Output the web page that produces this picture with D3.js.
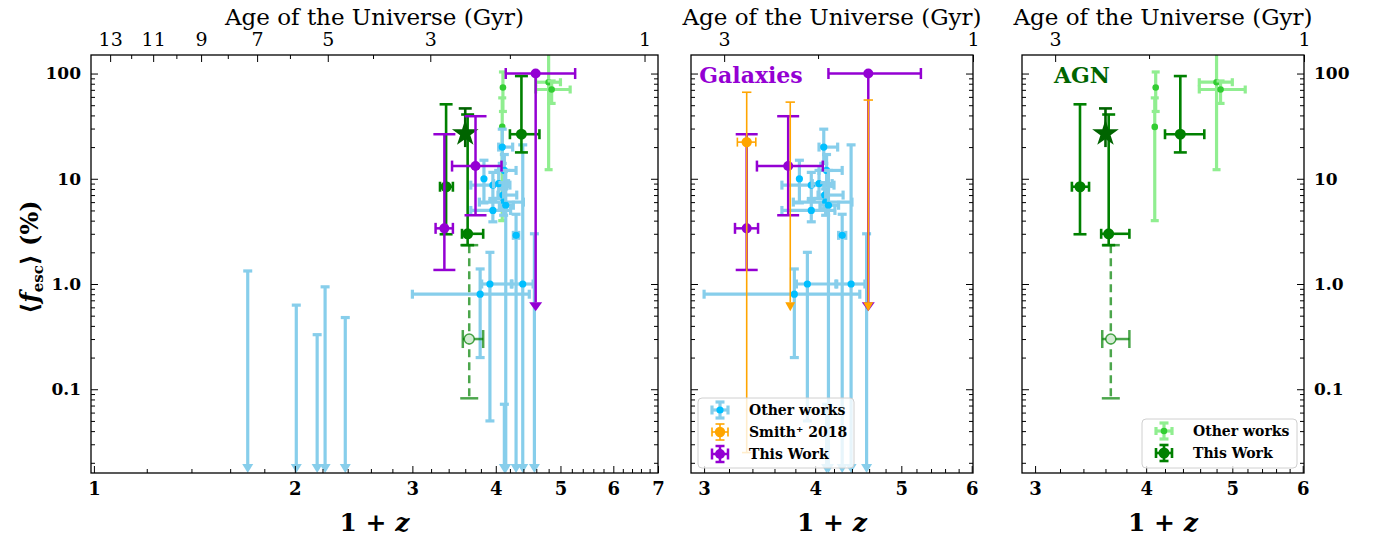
<!DOCTYPE html>
<html>
<head>
<meta charset="utf-8">
<script src="https://cdn.jsdelivr.net/npm/d3@7"></script>
<style>
  body { margin: 0; background: #fff; }
  svg { display: block; }
</style>
</head>
<body>
<div id="chart"></div>
<script>
// galaxies, other works: [1+z, 1+z low, 1+z high, fesc %, fesc low, fesc high]
// a fesc low of 0 means the bar runs to the bottom of the axes and ends in an arrow
const galOther = [
  [4.09, 4.04, 4.24, 20, 14, 29.6],
  [4.12, 4.04, 4.29, 12, 8.5, 17],
  [3.84, 3.84, 3.84, 10, 5.9, 15],
  [3.96, 3.67, 4.20, 8.7, 6.5, 11.5],
  [4.04, 3.97, 4.18, 9.0, 6.5, 12],
  [4.10, 4.03, 4.30, 7.0, 5.2, 9.2],
  [4.11, 3.78, 4.40, 6.0, 4.5, 8.0],
  [4.14, 4.05, 4.25, 5.6, 0, 12],
  [3.96, 3.67, 4.21, 5.0, 3.9, 6.2],
  [4.29, 4.25, 4.33, 2.9, 0, 4.6],
  [3.79, 3.00, 4.49, 0.8, 0.2, 1.39],
  [3.92, 3.81, 4.23, 1.0, 0.05, 2.0],
  [4.39, 4.22, 4.55, 1.0, 0, 21]
];
// galaxies, other works, upper limits: [1+z, limit]
const galOtherLim = [
  [1.70, 1.33], [2.01, 0.63], [2.16, 0.33], [2.22, 0.94], [2.38, 0.48],
  [4.12, 0.072], [4.57, 3.0]
];
const smithPts = [[3.35, 3.27, 3.43, 22.3, 0.025, 66.4]];
// [1+z, top cap, arrow tip]
const smithLim = [[3.75, 53.5, 0.55], [4.59, 56, 0.55]];
const galThis = [
  [3.35, 3.25, 3.45, 3.38, 1.36, 26.5],
  [3.73, 3.44, 4.08, 13.2, 4.5, 39.3]
];
// [1+z, 1+z low, 1+z high, fesc, arrow tip]
const galThisLim = [[4.59, 4.14, 5.26, 100, 0.55]];

const agnOther = [
  [4.10, 4.10, 4.10, 73.7, 43.6, 103.5],
  [4.09, 4.09, 4.09, 31.1, 4.0, 58.7],
  [4.80, 4.59, 5.00, 82.7, 12.2, 400],
  [4.85, 4.59, 5.17, 70.5, 52, 85]
];
const agnThis = [
  [3.37, 3.30, 3.45, 8.4, 2.97, 51],
  [3.63, 3.56, 3.83, 3.0, 2.34, 40.8],
  [4.37, 4.20, 4.65, 26.5, 17.8, 94.6]
];
const agnStar = [[3.60, 3.60, 3.60, 26.9, 20, 46.6]];
const agnOpen = [[3.65, 3.57, 3.83, 0.30, 0.082, 2.34]];

const yTickVals = [0.1, 1, 10, 100];
const yTickText = ["0.1", "1.0", "10", "100"];
const ageMainMajor = [13, 11, 9, 7, 5, 3, 1];
const ageMainMinor = [12, 10, 8, 6, 4, 2];
// narrow panels: [age, 1+z where the tick sits]
const ageZoomMajor = [[3, 3.16], [1, 6.02]];
const ageZoomMinor = [[2, 4.03]];

// flat LCDM, age (Gyr) -> 1+z
function ageToOnePlusZ(t) {
  const H0 = 67.7, Om = 0.31, OL = 1 - Om;
  const pref = (977.8 / H0) * 2 / (3 * Math.sqrt(OL));
  const s = Math.sinh(t / pref) / Math.sqrt(OL / Om);
  return Math.pow(s, -2 / 3);
}

const W = 1374, H = 538;
const yTop = 55, yBot = 473;
const serif = "'DejaVu Serif', 'Liberation Serif', serif";

const svg = d3.select("#chart").append("svg").attr("width", W).attr("height", H);

const y = d3.scaleLog().domain([0.016, 150]).range([yBot, yTop]);

const styles = {
  galOther: { ec: "#87ceeb", mc: "#00bfff", lw: 3.2, capV: 4.5, capH: 4.5, r: 3.6, ah: 9, aw: 5.5 },
  smith: { ec: "#ffa500", mc: "#ffa500", lw: 1.6, capV: 4.7, capH: 4.5, r: 5.2, ah: 9, aw: 5 },
  galThis: { ec: "#9400d3", mc: "#9400d3", lw: 2.5, capV: 11, capH: 5.5, r: 5, ah: 9, aw: 6.5 },
  agnOther: { ec: "#90ee90", mc: "#32cd32", lw: 3.2, capV: 4, capH: 4, r: 3.3, ah: 8, aw: 5 },
  agnThis: { ec: "#008000", mc: "#008000", lw: 2.6, capV: 6.5, capH: 5, r: 5.5, ah: 8, aw: 5 },
  agnOpen: { ec: "rgba(0,128,0,0.7)", mc: "#d4ecd4", lw: 2.5, capV: 9, capH: 9, r: 5, dash: "8,5", open: true }
};

function seg(g, x1, y1, x2, y2, st, dash) {
  g.append("line")
    .attr("x1", x1).attr("y1", y1).attr("x2", x2).attr("y2", y2)
    .attr("stroke", st.ec).attr("stroke-width", st.lw)
    .attr("stroke-dasharray", dash || null);
}

function arrow(g, X, tipY, st) {
  g.append("path")
    .attr("d", `M${X - st.aw},${tipY - st.ah}L${X + st.aw},${tipY - st.ah}L${X},${tipY}Z`)
    .attr("fill", st.ec);
}

function marker(g, X, Y, st) {
  g.append("circle").attr("cx", X).attr("cy", Y).attr("r", st.r)
    .attr("fill", st.mc)
    .attr("stroke", st.open ? st.ec : "none").attr("stroke-width", 1.5);
}

function errPoint(g, x, d, st) {
  const [zx, zl, zh, f, fl, fh] = d;
  const X = x(zx), Y = y(f);
  const yHi = y(fh);
  const yLo = fl > 0 ? y(fl) : yBot - st.ah;
  seg(g, X, yHi, X, yLo, st, st.dash);
  seg(g, X - st.capV, yHi, X + st.capV, yHi, st);
  if (fl > 0) seg(g, X - st.capV, yLo, X + st.capV, yLo, st);
  else arrow(g, X, yBot, st);
  if (zh > zl) {
    seg(g, x(zl), Y, x(zh), Y, st);
    seg(g, x(zl), Y - st.capH, x(zl), Y + st.capH, st);
    seg(g, x(zh), Y - st.capH, x(zh), Y + st.capH, st);
  }
  marker(g, X, Y, st);
}

const layers = {
  agnOther(g, x) {
    agnOther.forEach(d => errPoint(g, x, d, styles.agnOther));
  },
  galOther(g, x) {
    const st = styles.galOther;
    galOtherLim.forEach(([zx, lim]) => {
      const X = x(zx);
      seg(g, X, y(lim), X, yBot - st.ah, st);
      seg(g, X - st.capV, y(lim), X + st.capV, y(lim), st);
      arrow(g, X, yBot, st);
    });
    galOther.forEach(d => errPoint(g, x, d, st));
  },
  smith(g, x) {
    const st = styles.smith;
    smithLim.forEach(([zx, top, tip]) => {
      const X = x(zx);
      seg(g, X, y(top), X, y(tip) - st.ah, st);
      seg(g, X - st.capV, y(top), X + st.capV, y(top), st);
      arrow(g, X, y(tip), st);
    });
    smithPts.forEach(d => errPoint(g, x, d, st));
  },
  agnThis(g, x) {
    agnOpen.forEach(d => errPoint(g, x, d, styles.agnOpen));
    agnThis.forEach(d => errPoint(g, x, d, styles.agnThis));
    const st = Object.assign({}, styles.agnThis, { ec: "#006400" });
    agnStar.forEach(d => {
      const X = x(d[0]);
      seg(g, X, y(d[4]), X, y(d[5]), st);
      seg(g, X - st.capV, y(d[5]), X + st.capV, y(d[5]), st);
      g.append("path")
        .attr("d", d3.symbol(d3.symbolStar, 220)())
        .attr("transform", `translate(${X},${y(d[3])})`)
        .attr("fill", "#006400");
    });
  },
  galThis(g, x) {
    const st = styles.galThis;
    galThisLim.forEach(([zx, zl, zh, f, tip]) => {
      const X = x(zx), Y = y(f);
      seg(g, X, Y, X, y(tip) - st.ah, st);
      arrow(g, X, y(tip), st);
      seg(g, x(zl), Y, x(zh), Y, st);
      seg(g, x(zl), Y - st.capH, x(zl), Y + st.capH, st);
      seg(g, x(zh), Y - st.capH, x(zh), Y + st.capH, st);
      marker(g, X, Y, st);
    });
    galThis.forEach(d => errPoint(g, x, d, st));
  }
};

const panels = [
  { x0: 91, x1: 658, dom: [0.99, 7.0], xt: [1, 2, 3, 4, 5, 6, 7],
    ageMajor: ageMainMajor.map(a => [a, ageToOnePlusZ(a)]),
    ageMinor: ageMainMinor.map(a => [a, ageToOnePlusZ(a)]),
    ylab: "left", draw: ["agnOther", "galOther", "agnThis", "galThis"] },
  { x0: 691, x1: 973, dom: [2.9, 6.02], xt: [3, 4, 5, 6],
    ageMajor: ageZoomMajor, ageMinor: ageZoomMinor,
    ylab: null, draw: ["galOther", "galThis", "smith"],
    tag: { text: "Galaxies", color: "#9400d3" },
    legend: { x: 698, y: 398, w: 156, h: 70,
      items: [["Other works", "galOther"], ["Smith\u207a 2018", "smith"], ["This Work", "galThis"]] } },
  { x0: 1022, x1: 1304, dom: [2.9, 6.02], xt: [3, 4, 5, 6],
    ageMajor: ageZoomMajor, ageMinor: ageZoomMinor,
    ylab: "right", draw: ["agnOther", "agnThis"],
    tag: { text: "AGN", color: "#006400" },
    legend: { x: 1142, y: 419, w: 155, h: 49,
      items: [["Other works", "agnOther"], ["This Work", "agnThis"]] } }
];

const yMinor = [];
[0.01, 0.1, 1, 10, 100].forEach(dec => d3.range(2, 10).forEach(k => {
  const v = dec * k;
  if (v > 0.016 && v < 150) yMinor.push(v);
}));

function styleAxis(g, size, bold) {
  g.select(".domain").remove();
  g.selectAll("line").attr("stroke", "#000");
  g.selectAll("text").attr("font-family", serif).attr("font-size", size)
    .attr("font-weight", bold ? "bold" : "normal").attr("fill", "#000");
}

panels.forEach((p, pi) => {
  const x = d3.scaleLog().domain(p.dom).range([p.x0, p.x1]);
  const g = svg.append("g");
  const clipId = "clip" + pi;
  svg.append("clipPath").attr("id", clipId).append("rect")
    .attr("x", p.x0).attr("y", yTop).attr("width", p.x1 - p.x0).attr("height", yBot - yTop);

  const plot = g.append("g").attr("clip-path", `url(#${clipId})`);
  p.draw.forEach(name => layers[name](plot.append("g"), x));

  // bottom axis
  const xMinor = d3.range(Math.ceil(p.dom[0] * 5) / 5, p.dom[1] + 1e-9, 0.2)
    .filter(v => Math.abs(v - Math.round(v)) > 1e-6 && v > p.dom[0] && v < p.dom[1]);
  g.append("g").attr("transform", `translate(0,${yBot})`)
    .call(d3.axisBottom(x).tickValues(p.xt).tickSizeInner(-7).tickSizeOuter(0)
      .tickPadding(9).tickFormat(d3.format("d")))
    .call(a => styleAxis(a, 18, true));
  g.append("g").attr("transform", `translate(0,${yBot})`)
    .call(d3.axisBottom(x).tickValues(xMinor).tickSizeInner(-4).tickSizeOuter(0).tickFormat(""))
    .call(a => styleAxis(a, 10, false));

  // top axis: age of the universe
  g.append("g").attr("transform", `translate(0,${yTop})`)
    .call(d3.axisTop(x).tickValues(p.ageMajor.map(d => d[1])).tickSizeInner(-7).tickSizeOuter(0)
      .tickPadding(9).tickFormat((d, i) => p.ageMajor[i][0]))
    .call(a => styleAxis(a, 19, false));
  g.append("g").attr("transform", `translate(0,${yTop})`)
    .call(d3.axisTop(x).tickValues(p.ageMinor.map(d => d[1])).tickSizeInner(-4).tickSizeOuter(0).tickFormat(""))
    .call(a => styleAxis(a, 10, false));

  // y axes on both sides
  [["left", p.x0, d3.axisLeft], ["right", p.x1, d3.axisRight]].forEach(([side, px, ax]) => {
    g.append("g").attr("transform", `translate(${px},0)`)
      .call(ax(y).tickValues(yTickVals).tickSizeInner(-7).tickSizeOuter(0).tickPadding(10)
        .tickFormat((d, i) => (p.ylab === side ? yTickText[i] : "")))
      .call(a => styleAxis(a, 17, true));
    g.append("g").attr("transform", `translate(${px},0)`)
      .call(ax(y).tickValues(yMinor).tickSizeInner(-4).tickSizeOuter(0).tickFormat(""))
      .call(a => styleAxis(a, 10, false));
  });

  g.append("rect").attr("x", p.x0).attr("y", yTop)
    .attr("width", p.x1 - p.x0).attr("height", yBot - yTop)
    .attr("fill", "none").attr("stroke", "#000").attr("stroke-width", 1.3);

  const cx = (p.x0 + p.x1) / 2;
  g.append("text").attr("x", cx).attr("y", 25).attr("text-anchor", "middle")
    .attr("font-family", serif).attr("font-size", 23).text("Age of the Universe (Gyr)");

  const xl = g.append("text").attr("x", cx).attr("y", 531).attr("text-anchor", "middle")
    .attr("font-family", serif).attr("font-size", 25).attr("font-weight", "bold");
  xl.append("tspan").text("1 + ");
  xl.append("tspan").attr("font-style", "italic").text("z");

  if (p.tag) {
    g.append("text").attr("x", p.x0 + 60).attr("y", 83).attr("text-anchor", "middle")
      .attr("font-family", serif).attr("font-size", 22).attr("font-weight", "bold")
      .attr("fill", p.tag.color).text(p.tag.text);
  }

  if (p.legend) {
    const L = p.legend;
    const lg = g.append("g");
    lg.append("rect").attr("x", L.x).attr("y", L.y).attr("width", L.w).attr("height", L.h)
      .attr("rx", 4).attr("fill", "#fff").attr("fill-opacity", 0.8)
      .attr("stroke", "#d0d0d0").attr("stroke-width", 1);
    L.items.forEach(([label, key], i) => {
      const st = styles[key];
      const ix = L.x + 22, iy = L.y + 12 + i * 22;
      seg(lg, ix - 8, iy, ix + 8, iy, st);
      seg(lg, ix, iy - 8, ix, iy + 8, st);
      seg(lg, ix - 8, iy - st.capH, ix - 8, iy + st.capH, st);
      seg(lg, ix + 8, iy - st.capH, ix + 8, iy + st.capH, st);
      seg(lg, ix - 4.5, iy - 8, ix + 4.5, iy - 8, st);
      seg(lg, ix - 4.5, iy + 8, ix + 4.5, iy + 8, st);
      marker(lg, ix, iy, st);
      lg.append("text").attr("x", L.x + 51).attr("y", iy + 5)
        .attr("font-family", serif).attr("font-size", 14).attr("font-weight", "bold")
        .text(label);
    });
  }
});

// y axis title
const yl = svg.append("text")
  .attr("transform", "translate(38,257) rotate(-90)")
  .attr("text-anchor", "middle")
  .attr("font-family", serif).attr("font-size", 24).attr("font-weight", "bold");
yl.append("tspan").text("\u27e8");
yl.append("tspan").attr("font-style", "italic").text("f");
yl.append("tspan").attr("font-size", 15).attr("dy", 5).text("esc");
yl.append("tspan").attr("dy", -5).text("\u27e9 (%)");
</script>
</body>
</html>
